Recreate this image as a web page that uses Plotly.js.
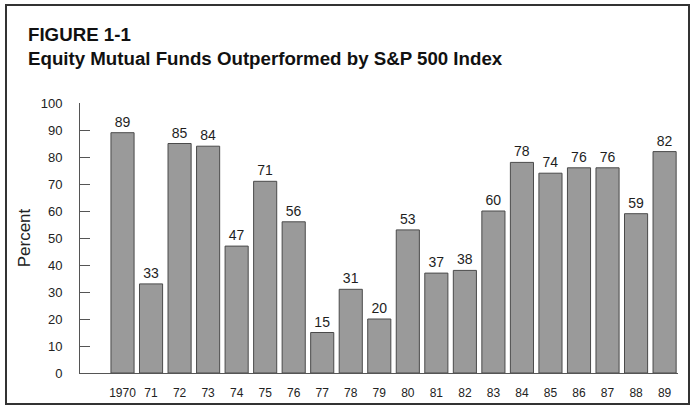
<!DOCTYPE html>
<html>
<head>
<meta charset="utf-8">
<script src="https://cdn.plot.ly/plotly-3.0.1.min.js"></script>
<style>html,body{margin:0;padding:0;background:#fff;}#chart{width:693px;height:405px;}</style>
</head>
<body>
<div id="chart"></div>
<script>
const years = ['1970','71','72','73','74','75','76','77','78','79','80','81','82','83','84','85','86','87','88','89'];
const percent = [89,33,85,84,47,71,56,15,31,20,53,37,38,60,78,74,76,76,59,82];
const yTicks = [0,10,20,30,40,50,60,70,80,90,100];

const font = 'Liberation Sans, Arial, Helvetica, sans-serif';
const trace = {
  type: 'bar',
  x: years,
  y: percent,
  text: percent.map(String),
  textposition: 'outside',
  textfont: {family: font, size: 14, color: '#1e1e1e'},
  cliponaxis: false,
  marker: {color: '#9a9a9a', line: {color: '#4a4a4a', width: 1}},
  hoverinfo: 'x+y'
};
const layout = {
  width: 693, height: 405,
  margin: {l: 80, r: 15, t: 103, b: 32},
  paper_bgcolor: '#ffffff', plot_bgcolor: '#ffffff',
  bargap: 0.19,
  showlegend: false,
  title: {
    text: '<b>FIGURE 1-1</b><br><b>Equity Mutual Funds Outperformed by S&amp;P 500 Index</b>',
    font: {family: font, size: 18.7, color: '#111'},
    x: 28/693, xanchor: 'left', xref: 'container',
    y: 1 - 41/405, yanchor: 'top', yref: 'container'
  },
  xaxis: {
    type: 'category',
    range: [-1.49, 19.47],
    showline: true, linecolor: '#555', linewidth: 1,
    ticks: '', showgrid: false, zeroline: false,
    tickfont: {family: font, size: 12, color: '#222'},
    ticklabelstandoff: 9,
    fixedrange: true
  },
  yaxis: {
    range: [0, 100],
    tickvals: yTicks,
    ticktext: yTicks.map(String),
    showline: true, linecolor: '#555', linewidth: 1,
    ticks: 'inside', ticklen: 10, tickcolor: '#555', tickwidth: 1,
    showgrid: false, zeroline: false,
    tickfont: {family: font, size: 13, color: '#222'},
    ticklabelstandoff: 14,
    title: {text: 'Percent', font: {family: font, size: 17, color: '#222'}, standoff: 5},
    fixedrange: true
  },
  shapes: [{
    type: 'rect', xref: 'paper', yref: 'paper',
    x0: (6-80)/598, x1: (689-80)/598,
    y0: (373-404)/270, y1: (373-5)/270,
    line: {color: '#333', width: 2}, fillcolor: 'rgba(0,0,0,0)', layer: 'below'
  }]
};
Plotly.newPlot('chart', [trace], layout, {displayModeBar: false, staticPlot: true});
</script>
</body>
</html>
